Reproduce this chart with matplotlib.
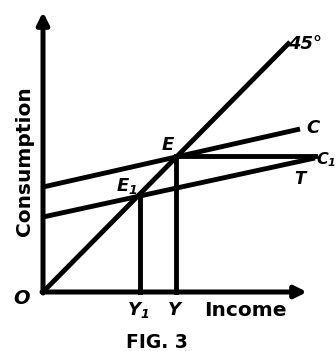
"""
Consumption / income diagram (FIG. 3)
"""
import matplotlib
matplotlib.use("Agg")
import matplotlib.pyplot as plt

# data units are measured from the origin O, income to the right, consumption up
line45_x = [0, 247]
line45_y = [0, 250]
c_x = [0, 257]
c_y = [105, 163]
c1_x = [0, 272]
c1_y = [75, 134]
e_point = (133, 136)
e1_point = (97, 97)
horiz_end = 272
axis_top = 280
axis_right = 264

plt.rcParams['font.family'] = ['DejaVu Sans']

fig = plt.figure(figsize=(3.36, 3.51), dpi=100)
ax = fig.add_axes([0, 0, 1, 1])
ax.set_xlim(-43, 293)
ax.set_ylim(-59, 292)
ax.axis("off")

lw = 3.5
# axes with arrows
ax.annotate("", xy=(0, axis_top), xytext=(0, -1),
            arrowprops=dict(arrowstyle="-|>,head_length=0.7,head_width=0.35", lw=3.6, color="black", shrinkA=0, shrinkB=0))
ax.annotate("", xy=(axis_right, 0), xytext=(-1, 0),
            arrowprops=dict(arrowstyle="-|>,head_length=0.7,head_width=0.35", lw=3.6, color="black", shrinkA=0, shrinkB=0))

ax.plot(line45_x, line45_y, color="black", lw=lw, solid_capstyle="butt")
ax.plot(c_x, c_y, color="black", lw=lw, solid_capstyle="butt")
ax.plot(c1_x, c1_y, color="black", lw=lw, solid_capstyle="butt")
ax.plot([e_point[0], horiz_end], [e_point[1], e_point[1]], color="black", lw=lw)
ax.plot([e_point[0], e_point[0]], [0, e_point[1]], color="black", lw=lw)
ax.plot([e1_point[0], e1_point[0]], [0, e1_point[1]], color="black", lw=lw)

bold = dict(fontweight="bold", color="black", ha="center", va="center")
ital = dict(fontweight="bold", style="italic", color="black", ha="center", va="center")

ax.text(-18, 131, "Consumption", rotation=90, fontsize=14.5, **bold)
ax.text(202, -18, "Income", fontsize=14.5, **bold)
ax.text(114, -50, "FIG. 3", fontsize=13.5, **bold)
ax.text(-21, -6, "O", fontsize=14, **ital)
ax.text(95, -18, "Y$_{\\mathregular{1}}$", fontsize=13, **ital)
ax.text(131, -18, "Y", fontsize=13, **ital)
ax.text(125, 147, "E", fontsize=13, **ital)
ax.text(84, 106, "E$_{\\mathregular{1}}$", fontsize=13, **ital)
ax.text(262, 248, "45°", fontsize=13, **ital)
ax.text(270, 164, "C", fontsize=13, **ital)
ax.text(283, 132, "C$_{\\mathregular{1}}$", fontsize=11.5, **ital)
ax.text(257, 113, "T", fontsize=12, **ital)

fig.savefig("out.png", dpi=100)
